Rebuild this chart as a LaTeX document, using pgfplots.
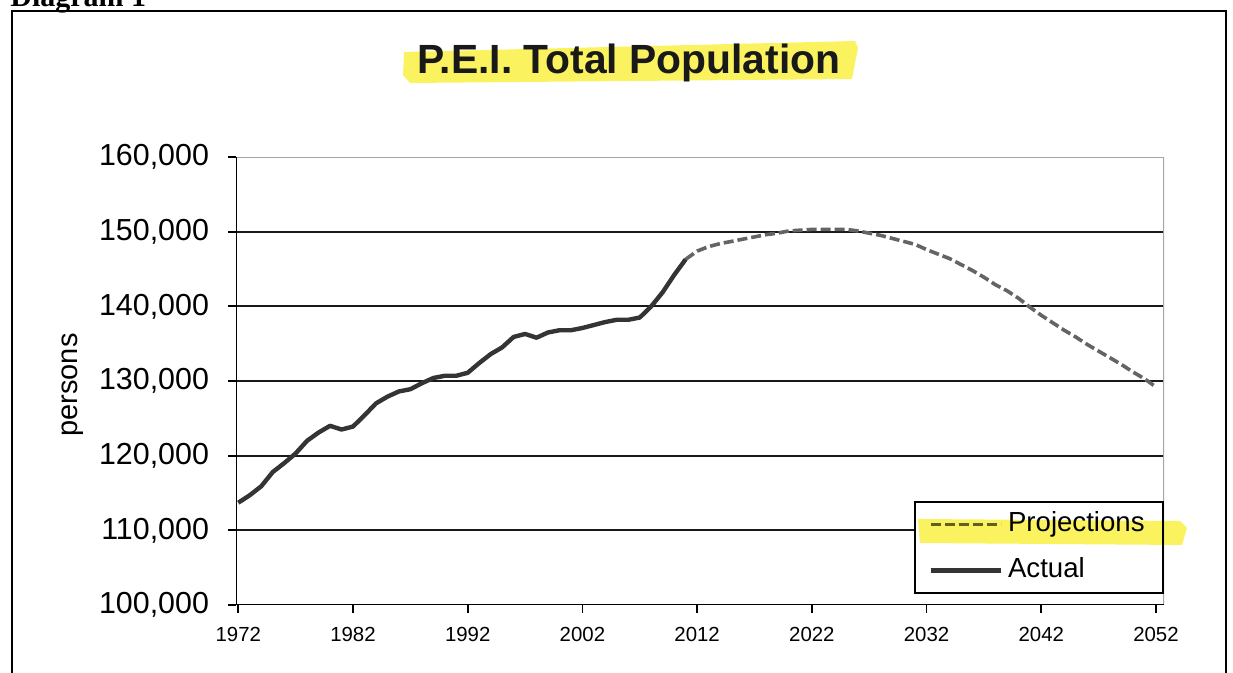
\documentclass[border=0pt]{standalone}
\usepackage{fontspec}
\setmainfont{Liberation Sans}
\newfontfamily\serifb{Liberation Serif}
\usepackage{pgfplots}
\pgfplotsset{compat=1.18}
\definecolor{hl}{RGB}{250,243,95}
\definecolor{actualc}{RGB}{52,52,52}
\definecolor{projc}{RGB}{100,100,100}

\pgfplotstableread{
year pop
1972 113700
1973 114700
1974 115900
1975 117800
1976 119000
1977 120300
1978 122000
1979 123100
1980 124000
1981 123500
1982 123900
1983 125400
1984 127000
1985 127900
1986 128600
1987 128900
1988 129700
1989 130400
1990 130700
1991 130700
1992 131100
1993 132400
1994 133600
1995 134500
1996 135900
1997 136300
1998 135800
1999 136500
2000 136800
2001 136800
2002 137100
2003 137500
2004 137900
2005 138200
2006 138200
2007 138500
2008 140000
2009 141900
2010 144200
2011 146300
}\actualtable

\pgfplotstableread{
year pop
2011 146300
2012 147400
2013 148000
2014 148400
2015 148700
2016 149000
2017 149300
2018 149600
2019 149800
2020 150100
2021 150200
2022 150300
2023 150300
2024 150300
2025 150300
2026 150100
2027 149800
2028 149500
2029 149100
2030 148700
2031 148300
2032 147600
2033 147000
2034 146400
2035 145600
2036 144800
2037 143900
2038 142900
2039 142100
2040 141100
2041 139900
2042 138800
2043 137800
2044 136800
2045 135900
2046 134900
2047 134000
2048 133100
2049 132200
2050 131200
2051 130300
2052 129200
}\projtable

\begin{document}
\begin{tikzpicture}
\begin{scope}[x=0.5pt,y=-0.5pt]
\fill[hl] (404,52) -- (855,41) -- (858,48) -- (852,79) -- (410,83) -- (403,75) -- cycle;
\node[anchor=base, inner sep=0, font=\fontsize{20.4}{24}\selectfont\bfseries, text=black!90] at (629,74) {P.E.I. Total Population};
\node[anchor=base west, inner sep=0, font=\serifb\fontsize{15}{18}\selectfont\bfseries] at (10,7) {Diagram 1};
\draw[line width=1.25pt] (12,700) -- (12,11) -- (1226,11) -- (1226,700);
\end{scope}
\begin{axis}[
  at={(118pt,-302.5pt)}, anchor=south west,
  scale only axis, width=464pt, height=224pt,
  xmin=1971.8, xmax=2052.7, ymin=100000, ymax=160000,
  xtick={1972,1982,...,2052},
  ytick={100000,110000,...,160000},
  axis line style={draw=none},
  tick align=outside, xtick pos=lower, ytick pos=left,
  major tick length=4pt,
  tick style={black, line width=0.9pt},
  /pgf/number format/assume math mode=true,
  scaled y ticks=false,
  y tick label style={font=\fontsize{15.2}{18}\selectfont, xshift=-6pt, /pgf/number format/fixed, /pgf/number format/1000 sep={,}},
  x tick label style={font=\fontsize{10.2}{12}\selectfont, yshift=-3.5pt, /pgf/number format/1000 sep={}},
  ylabel={persons},
  ylabel style={font=\fontsize{14.5}{17}\selectfont, at={(axis description cs:-0.176,0.491)}, anchor=center},
  extra y ticks={110000,120000,130000,140000,150000},
  extra y tick labels={},
  extra y tick style={grid=major, major grid style={black!90, line width=1pt}},
  legend style={at={(rel axis cs:1,0.0246)}, anchor=south east, draw=black, line width=0.9pt, fill=white,
    font=\fontsize{13.8}{16}\selectfont, inner xsep=6.75pt, inner ysep=2.25pt, row sep=5pt,
    cells={anchor=west}, nodes={inner sep=2.5pt, text height=10pt, text depth=3pt}},
  legend image code/.code={\draw[#1] (0pt,0pt) -- (35pt,0pt);},
]
\draw[gray!70, line width=0.8pt] (rel axis cs:0,1) -- (rel axis cs:1,1) -- (rel axis cs:1,0);
\draw[black, line width=1pt] (rel axis cs:0,1) -- (rel axis cs:0,0) -- (rel axis cs:1,0);
\addplot[projc, line width=1.8pt, dash pattern=on 5pt off 2pt] table[x=year,y=pop] {\projtable};
\addlegendentry{Projections}
\addplot[actualc, line width=2.2pt, line join=round] table[x=year,y=pop] {\actualtable};
\addlegendentry{Actual}
\end{axis}
\begin{scope}[x=0.5pt,y=-0.5pt]
\fill[hl, blend mode=multiply] (918,519) -- (1180,521) -- (1187,528) -- (1182,545) -- (920,543) -- cycle;
\end{scope}
\pgfresetboundingbox
\useasboundingbox (0,0) rectangle (616.5pt,-336.5pt);
\end{tikzpicture}
\end{document}
